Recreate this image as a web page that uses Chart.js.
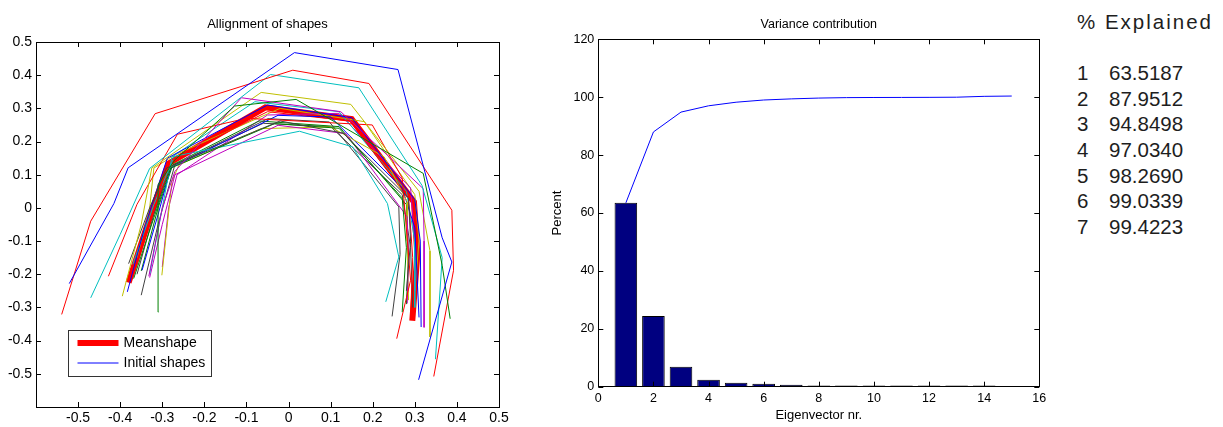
<!DOCTYPE html>
<html>
<head>
<meta charset="utf-8">
<script src="https://cdn.jsdelivr.net/npm/chart.js@4"></script>
<style>
  html, body { margin: 0; padding: 0; background: #fff; }
  body { width: 1223px; height: 427px; position: relative; overflow: hidden; }
  .box { position: absolute; top: 0; width: 520px; height: 427px; }
  #explained { position: absolute; left: 1077px; top: 0; font-family: "Liberation Sans", Arial, sans-serif; font-size: 20.5px; color: #1e1e1e; }
  #explained div { position: absolute; white-space: nowrap; line-height: 22px; }
  #explained .head { letter-spacing: 2px; }
  #explained .rank { display: inline-block; width: 32px; }
</style>
</head>
<body>
<div class="box" style="left:0"><canvas id="shapes"></canvas></div>
<div class="box" style="left:540px"><canvas id="variance"></canvas></div>
<div id="explained"></div>

<script>
// ---- data ----
const meanShape = [[-0.38,-0.225],[-0.33,-0.03],[-0.285,0.134],[-0.055,0.303],[0.15,0.268],[0.298,0.018],[0.306,-0.14],[0.294,-0.34]];

const shapes = [
  [[-0.521,-0.228],[-0.415,0.013],[-0.381,0.121],[0.014,0.468],[0.26,0.417],[0.365,-0.09],[0.388,-0.163],[0.309,-0.518]],
  [[-0.309,-0.314],[-0.31,0.07],[-0.27,0.145],[-0.128,0.307],[0.018,0.327],[0.32,0.104],[0.365,-0.173],[0.384,-0.334]],
  [[-0.539,-0.321],[-0.47,-0.04],[-0.317,0.284],[0.010,0.415],[0.191,0.375],[0.388,-0.007],[0.392,-0.188],[0.345,-0.508]],
  [[-0.470,-0.271],[-0.40,-0.08],[-0.33,0.119],[-0.043,0.402],[0.167,0.362],[0.317,0.068],[0.365,-0.15],[0.349,-0.456]],
  [[-0.332,-0.206],[-0.30,0.0],[-0.27,0.11],[-0.112,0.332],[0.124,0.29],[0.32,0.058],[0.322,-0.1],[0.322,-0.36]],
  [[-0.395,-0.266],[-0.35,-0.05],[-0.325,0.12],[-0.065,0.348],[0.148,0.312],[0.31,0.05],[0.336,-0.13],[0.336,-0.389]],
  [[-0.38,-0.168],[-0.33,0.0],[-0.29,0.12],[-0.02,0.262],[0.13,0.225],[0.285,0.03],[0.29,-0.1],[0.28,-0.25]],
  [[-0.383,-0.253],[-0.34,-0.05],[-0.288,0.15],[-0.05,0.31],[0.15,0.272],[0.30,0.025],[0.313,-0.1],[0.315,-0.359]],
  [[-0.368,-0.213],[-0.32,-0.03],[-0.28,0.12],[-0.033,0.254],[0.12,0.24],[0.27,0.03],[0.28,-0.12],[0.27,-0.314]],
  [[-0.428,-0.206],[-0.36,0.011],[-0.264,0.222],[-0.10,0.27],[0.199,0.25],[0.27,0.09],[0.29,-0.218],[0.257,-0.394]],
  [[-0.33,-0.2],[-0.30,0.0],[-0.277,0.154],[0.026,0.231],[0.152,0.184],[0.235,0.013],[0.262,-0.148],[0.231,-0.283]],
  [[-0.33,-0.21],[-0.30,-0.05],[-0.27,0.10],[-0.025,0.249],[0.136,0.224],[0.282,-0.027],[0.285,-0.15],[0.282,-0.288]],
  [[-0.301,-0.203],[-0.277,0.08],[-0.26,0.13],[-0.065,0.239],[0.10,0.244],[0.227,0.154],[0.282,0.018],[0.282,-0.10],[0.285,-0.278]],
  [[-0.350,-0.263],[-0.31,-0.05],[-0.27,0.13],[-0.049,0.269],[0.097,0.259],[0.262,0.003],[0.265,-0.14],[0.246,-0.327]],
  [[-0.348,-0.188],[-0.31,-0.02],[-0.28,0.12],[-0.025,0.279],[0.10,0.274],[0.27,0.06],[0.30,-0.06],[0.31,-0.33]],
  [[-0.35,-0.19],[-0.31,0.0],[-0.275,0.13],[-0.07,0.262],[0.12,0.245],[0.28,0.01],[0.285,-0.15],[0.28,-0.29]],
  [[-0.37,-0.21],[-0.325,-0.03],[-0.285,0.14],[-0.05,0.29],[0.145,0.262],[0.285,0.03],[0.295,-0.15],[0.29,-0.33]],
  [[-0.37,-0.17],[-0.32,0.01],[-0.27,0.16],[-0.08,0.32],[0.12,0.29],[0.28,0.05],[0.30,-0.1],[0.30,-0.3]],
  [[-0.30,-0.178],[-0.285,0.0],[-0.265,0.10],[-0.05,0.28],[0.12,0.285],[0.29,0.06],[0.30,-0.1],[0.30,-0.25]],
  [[-0.36,-0.15],[-0.33,0.0],[-0.32,0.12],[-0.27,0.16],[-0.02,0.30],[0.18,0.26],[0.30,0.04],[0.31,-0.1],[0.30,-0.25]],
  [[-0.36,-0.2],[-0.32,-0.02],[-0.28,0.125],[-0.06,0.255],[0.10,0.245],[0.27,0.04],[0.29,-0.12],[0.295,-0.3]]
];

const eigenNr = [1,2,3,4,5,6,7,8,9,10,11,12,13,14,15];
const variancePct = [63.5,24.4,6.9,2.4,1.4,1.0,0.7,0.45,0.45,0.45,0.45,0.45,0.45,0.45,0.1];
const cumulativePct = [63.5,88.0,94.85,97.03,98.27,99.03,99.42,99.7,99.85,99.9,99.92,99.95,100.0,100.3,100.4];

const explainedRank = [1,2,3,4,5,6,7];
const explainedPct = ["63.5187","87.9512","94.8498","97.0340","98.2690","99.0339","99.4223"];

// ---- styles ----
const FONT = '"Liberation Sans", Arial, sans-serif';
const colorOrder = ['#0000ff','#008000','#ff0000','#00bfbf','#bf00bf','#bfbf00','#404040'];

Chart.defaults.font.family = FONT;
Chart.defaults.color = '#000';

// matlab style box with ticks pointing inward
const matlabBox = {
  id: 'matlabBox',
  afterDraw(chart) {
    const { ctx, chartArea: a, scales: { x, y } } = chart;
    ctx.save();
    ctx.strokeStyle = '#000';
    ctx.lineWidth = 1;
    ctx.strokeRect(Math.round(a.left) + 0.5, Math.round(a.top) + 0.5,
      Math.round(a.right - a.left), Math.round(a.bottom - a.top));
    ctx.beginPath();
    x.ticks.forEach(t => {
      const px = Math.round(x.getPixelForValue(t.value)) + 0.5;
      ctx.moveTo(px, a.top); ctx.lineTo(px, a.top + 5);
      ctx.moveTo(px, a.bottom); ctx.lineTo(px, a.bottom - 5);
    });
    y.ticks.forEach(t => {
      const py = Math.round(y.getPixelForValue(t.value)) + 0.5;
      ctx.moveTo(a.left, py); ctx.lineTo(a.left + 5, py);
      ctx.moveTo(a.right, py); ctx.lineTo(a.right - 5, py);
    });
    ctx.stroke();
    ctx.restore();
  }
};

// legend box inside the plot (bottom left)
const boxLegend = {
  id: 'boxLegend',
  afterDraw(chart) {
    const { ctx, chartArea: a } = chart;
    const items = chart.data.datasets.filter(d => d.label);
    const bx = Math.round(a.left + 32) + 0.5, by = Math.round(a.bottom - 77) + 0.5;
    const w = 143, h = 46;
    ctx.save();
    ctx.fillStyle = '#fff';
    ctx.fillRect(bx, by, w, h);
    ctx.strokeStyle = '#333';
    ctx.lineWidth = 1;
    ctx.strokeRect(bx, by, w, h);
    ctx.font = '14px ' + FONT;
    ctx.textBaseline = 'middle';
    items.forEach((d, i) => {
      const ly = Math.round(by + 12 + i * 20.5);
      ctx.strokeStyle = d.borderColor;
      ctx.lineWidth = d.borderWidth;
      ctx.beginPath();
      ctx.moveTo(bx + 9, ly);
      ctx.lineTo(bx + 50, ly);
      ctx.stroke();
      ctx.fillStyle = '#000';
      ctx.fillText(d.label, bx + 55, ly);
    });
    ctx.restore();
  }
};

const toPts = arr => arr.map(p => ({ x: p[0], y: p[1] }));
const fmtTick = v => {
  const r = Math.round(v * 10) / 10;
  return r < -0.55 ? '' : String(r);
};

new Chart(document.getElementById('shapes'), {
  type: 'scatter',
  data: {
    datasets: [
      {
        label: 'Meanshape',
        data: toPts(meanShape),
        borderColor: '#ff0000',
        borderWidth: 6,
        showLine: true,
        pointRadius: 0,
        order: 1
      },
      ...shapes.map((s, i) => ({
        label: i === 0 ? 'Initial shapes' : '',
        data: toPts(s),
        borderColor: colorOrder[i % colorOrder.length],
        borderWidth: 1,
        showLine: true,
        pointRadius: 0,
        order: 0
      }))
    ]
  },
  options: {
    responsive: true,
    maintainAspectRatio: false,
    animation: false,
    devicePixelRatio: 1,
    layout: { padding: { left: 0, right: 21, top: 0, bottom: 0 } },
    plugins: {
      legend: { display: false },
      tooltip: { enabled: false },
      title: {
        display: true,
        text: 'Allignment of shapes',
        fullSize: false,
        color: '#000',
        font: { size: 13, weight: 'normal' },
        padding: { top: 16.5, bottom: 9.9 }
      }
    },
    scales: {
      x: {
        type: 'linear', min: -0.6, max: 0.5,
        ticks: { stepSize: 0.1, callback: fmtTick, font: { size: 14 }, padding: 3, maxRotation: 0, autoSkip: false },
        grid: { display: false, drawTicks: false },
        border: { display: false },
        afterFit: s => { s.height = 20; }
      },
      y: {
        type: 'linear', min: -0.6, max: 0.5,
        ticks: { stepSize: 0.1, callback: fmtTick, font: { size: 14 }, padding: 4, autoSkip: false },
        grid: { display: false, drawTicks: false },
        border: { display: false },
        afterFit: s => { s.width = 36; }
      }
    }
  },
  plugins: [matlabBox, boxLegend]
});

new Chart(document.getElementById('variance'), {
  data: {
    datasets: [
      {
        type: 'line',
        data: eigenNr.map((n, i) => ({ x: n, y: cumulativePct[i] })),
        borderColor: '#0000ff',
        borderWidth: 1,
        pointRadius: 0,
        tension: 0
      },
      {
        type: 'bar',
        data: eigenNr.map((n, i) => ({ x: n, y: variancePct[i] })),
        backgroundColor: '#000080',
        borderColor: '#000',
        borderWidth: 1,
        barPercentage: 1,
        categoryPercentage: 0.82
      }
    ]
  },
  options: {
    responsive: true,
    maintainAspectRatio: false,
    animation: false,
    devicePixelRatio: 1,
    layout: { padding: { left: 0, right: 20.7, top: 0, bottom: 0 } },
    plugins: {
      legend: { display: false },
      tooltip: { enabled: false },
      title: {
        display: true,
        text: 'Variance contribution',
        fullSize: false,
        color: '#000',
        font: { size: 12.5, weight: 'normal' },
        padding: { top: 16.8, bottom: 7.5 }
      }
    },
    scales: {
      x: {
        type: 'linear', min: 0, max: 16, offset: false,
        ticks: { stepSize: 2, font: { size: 12.5 }, padding: 4, maxRotation: 0 },
        grid: { display: false, drawTicks: false },
        border: { display: false },
        title: { display: true, text: 'Eigenvector nr.', font: { size: 13 }, padding: { top: 0, bottom: 4.2 } },
        afterFit: s => { s.height = 40.3; }
      },
      y: {
        type: 'linear', min: 0, max: 120,
        ticks: { stepSize: 20, font: { size: 12.5 }, padding: 4 },
        grid: { display: false, drawTicks: false },
        border: { display: false },
        title: { display: true, text: 'Percent', font: { size: 13 }, padding: { top: 9.2, bottom: 0 } },
        afterFit: s => { s.width = 58.3; }
      }
    }
  },
  plugins: [matlabBox]
});

// % Explained table
const ex = document.getElementById('explained');
const head = document.createElement('div');
head.className = 'head';
head.style.top = '11px';
head.textContent = '% Explained';
ex.appendChild(head);
explainedRank.forEach((r, i) => {
  const row = document.createElement('div');
  row.style.top = (62 + i * 25.67) + 'px';
  row.innerHTML = '<span class="rank">' + r + '</span>' + explainedPct[i];
  ex.appendChild(row);
});
</script>
</body>
</html>
